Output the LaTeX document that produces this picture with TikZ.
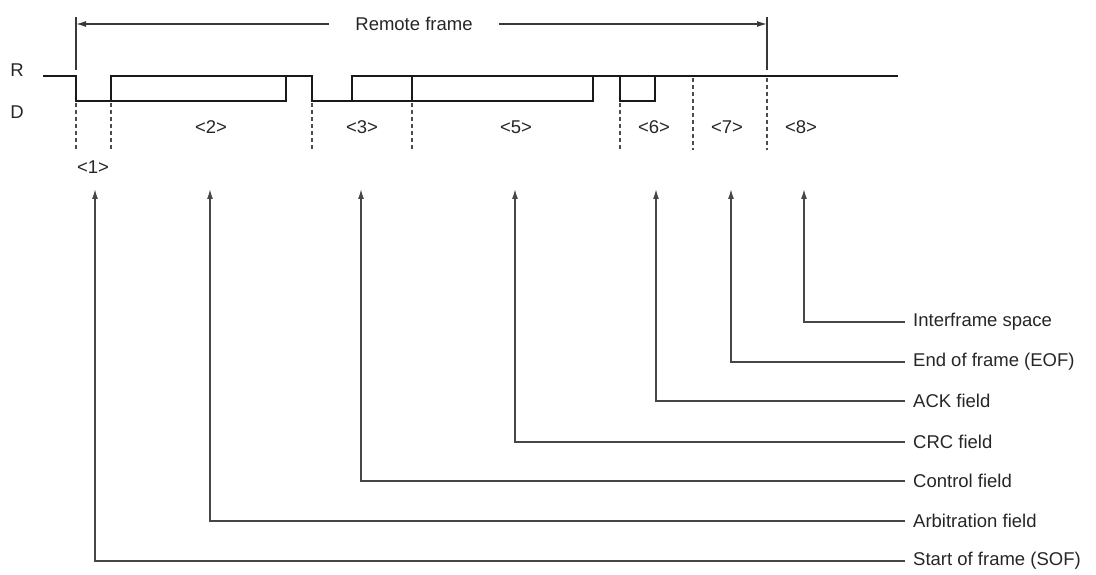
\documentclass[tikz,border=0pt]{standalone}
\usepackage{fontspec}
\setmainfont{Liberation Sans}
\usetikzlibrary{arrows.meta}
\begin{document}
\begin{tikzpicture}[x=1pt,y=-1pt,
  wave/.style={line width=2.1pt,black!90,line join=miter},
  leader/.style={line width=1.4pt,black!72,-{Latex[length=10pt,width=6pt]}},
  dimline/.style={line width=1.3pt,black!78,-{Latex[length=10pt,width=6pt]}},
  tick/.style={line width=1.3pt,black!78},
  dashv/.style={line width=1.3pt,black!70,dash pattern=on 4pt off 3pt},
  lbl/.style={font=\fontsize{18.5}{22}\selectfont,text=black!85,inner sep=0pt},
  fieldname/.style={lbl,anchor=west,inner xsep=8pt}]
\useasboundingbox (0,0) rectangle (1096,575);

% level labels
\node[lbl] (lR) at (17,70) {R};
\node[lbl] (lD) at (17,112) {D};

% remote frame dimension
\coordinate (fl) at (76,24);
\coordinate (fr) at (767,24);
\node[lbl,inner xsep=26pt] (rf) at (414,24) {Remote frame};
\draw[dimline] (rf.west) -- (fl);
\draw[dimline] (rf.east) -- (fr);
\draw[tick] (76,17) -- (76,70);
\draw[tick] (767,17) -- (767,70);

% waveform
\draw[wave] (43,76) -- (76,76) -- (76,101) -- (286,101) -- (286,76) -- (312,76) -- (312,101) -- (593,101) -- (593,76) -- (898,76);
\draw[wave] (111,101) -- (111,76) -- (312,76);
\draw[wave] (352,101) -- (352,76) -- (593,76);
\draw[wave] (412,101) -- (412,76);
\draw[wave] (620,76) -- (620,101) -- (655,101) -- (655,76);

% field boundaries
\foreach \x in {76,111,312,412,620} \draw[dashv] (\x,103) -- (\x,150);
\foreach \x in {693,767} \draw[dashv] (\x,78) -- (\x,150);

% field numbers
\node[lbl] (n1) at (93,167) {<1>};
\node[lbl] (n2) at (211,127) {<2>};
\node[lbl] (n3) at (362,127) {<3>};
\node[lbl] (n5) at (516,127) {<5>};
\node[lbl] (n6) at (654,127) {<6>};
\node[lbl] (n7) at (727,127) {<7>};
\node[lbl] (n8) at (801,127) {<8>};

% leader targets
\coordinate (a1) at (95,189);
\coordinate (a2) at (210,189);
\coordinate (a3) at (361,189);
\coordinate (a5) at (515,189);
\coordinate (a6) at (656,189);
\coordinate (a7) at (731,189);
\coordinate (a8) at (804,189);

% field names
\node[fieldname] (t8) at (905,322) {Interframe space};
\node[fieldname] (t7) at (905,362) {End of frame (EOF)};
\node[fieldname] (t6) at (905,401) {ACK field};
\node[fieldname] (t5) at (905,442) {CRC field};
\node[fieldname] (t3) at (905,481) {Control field};
\node[fieldname] (t2) at (905,521) {Arbitration field};
\node[fieldname] (t1) at (905,561) {Start of frame (SOF)};

\draw[leader] (t8.west) -| (a8);
\draw[leader] (t7.west) -| (a7);
\draw[leader] (t6.west) -| (a6);
\draw[leader] (t5.west) -| (a5);
\draw[leader] (t3.west) -| (a3);
\draw[leader] (t2.west) -| (a2);
\draw[leader] (t1.west) -| (a1);
\end{tikzpicture}
\end{document}
